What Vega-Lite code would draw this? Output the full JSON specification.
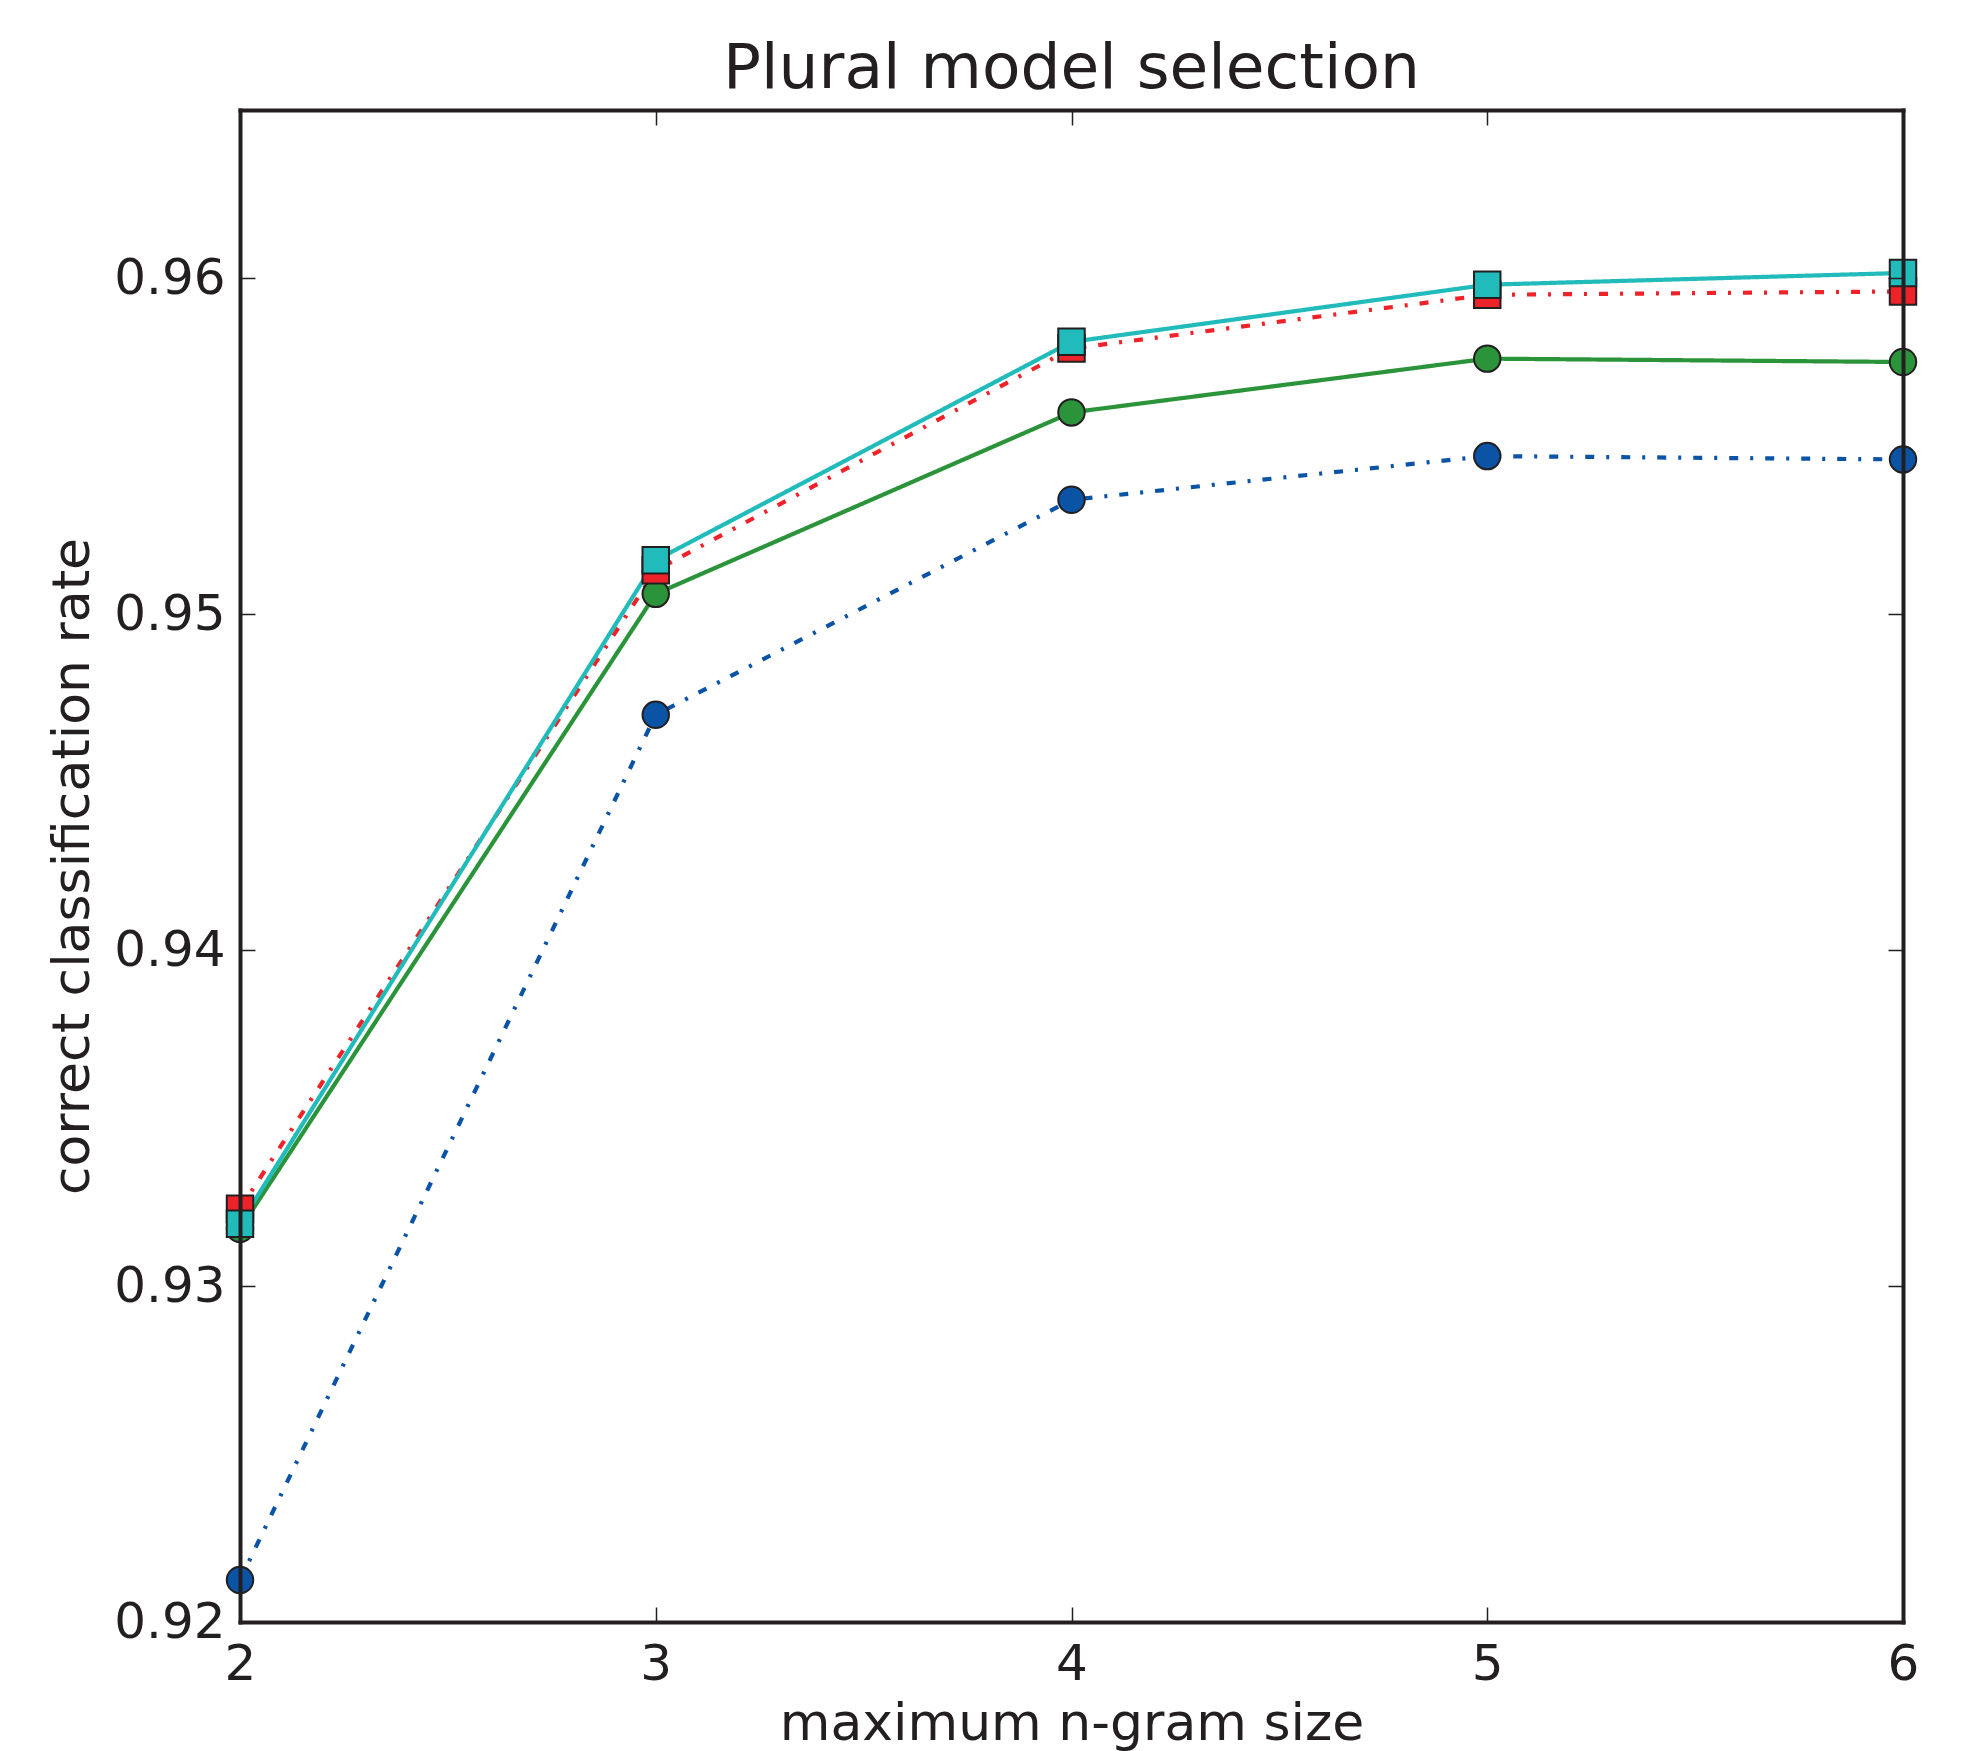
{
  "$schema": "https://vega.github.io/schema/vega-lite/v6.json",
  "autosize": {"type": "none"},
  "padding": {"left": 240, "top": 110, "right": 69, "bottom": 129},
  "width": 1663,
  "height": 1512,
  "background": "white",
  "config": {"view": {"stroke": null}, "font": "DejaVu Sans"},
  "title": {
    "text": "Plural model selection",
    "fontSize": 63,
    "font": "DejaVu Sans",
    "fontWeight": "normal",
    "color": "#231f20",
    "frame": "group",
    "anchor": "middle",
    "baseline": "alphabetic",
    "offset": -42
  },
  "data": {
    "values": [
      {"series": "A", "n": 2, "rate": 0.92125},
      {"series": "A", "n": 3, "rate": 0.9470},
      {"series": "A", "n": 4, "rate": 0.9534},
      {"series": "A", "n": 5, "rate": 0.9547},
      {"series": "A", "n": 6, "rate": 0.9546},
      {"series": "B", "n": 2, "rate": 0.9317},
      {"series": "B", "n": 3, "rate": 0.9506},
      {"series": "B", "n": 4, "rate": 0.9560},
      {"series": "B", "n": 5, "rate": 0.9576},
      {"series": "B", "n": 6, "rate": 0.9575},
      {"series": "C", "n": 2, "rate": 0.9323},
      {"series": "C", "n": 3, "rate": 0.9513},
      {"series": "C", "n": 4, "rate": 0.9579},
      {"series": "C", "n": 5, "rate": 0.9595},
      {"series": "C", "n": 6, "rate": 0.9596},
      {"series": "D", "n": 2, "rate": 0.93185},
      {"series": "D", "n": 3, "rate": 0.9516},
      {"series": "D", "n": 4, "rate": 0.9581},
      {"series": "D", "n": 5, "rate": 0.9598},
      {"series": "D", "n": 6, "rate": 0.96015}
    ]
  },
  "layer": [
    {
      "mark": {"type": "line", "strokeWidth": 4.2},
      "encoding": {
        "x": {
          "field": "n", "type": "quantitative",
          "scale": {"domain": [2, 6], "nice": false, "zero": false},
          "axis": {
            "orient": "bottom", "values": [2, 3, 4, 5, 6], "format": "d",
            "grid": false, "zindex": 1,
            "domainColor": "#231f20", "domainWidth": 4, "domainCap": "square",
            "tickColor": "#231f20", "tickWidth": 1.5, "tickSize": -15,
            "labelFontSize": 50, "labelColor": "#231f20", "labelPadding": 32, "labelFlush": false,
            "title": "maximum n-gram size", "titleFontSize": 52, "titleFontWeight": "normal",
            "titleColor": "#231f20", "titleBaseline": "alphabetic", "titlePadding": 50
          }
        },
        "y": {
          "field": "rate", "type": "quantitative",
          "scale": {"domain": [0.92, 0.965], "nice": false, "zero": false},
          "axis": {
            "orient": "left", "values": [0.92, 0.93, 0.94, 0.95, 0.96], "format": ".2f",
            "grid": false, "zindex": 1,
            "domainColor": "#231f20", "domainWidth": 4, "domainCap": "square",
            "tickColor": "#231f20", "tickWidth": 1.5, "tickSize": -15,
            "labelFontSize": 50, "labelColor": "#231f20", "labelPadding": 30, "labelFlush": false,
            "title": "correct classification rate", "titleFontSize": 52, "titleFontWeight": "normal",
            "titleColor": "#231f20", "titlePadding": 14
          }
        },
        "color": {
          "field": "series", "type": "nominal",
          "scale": {"domain": ["A", "B", "C", "D"], "range": ["#0b53a5", "#2b943a", "#ee2229", "#22bbbb"]},
          "legend": null
        },
        "strokeDash": {
          "field": "series", "type": "nominal",
          "scale": {"domain": ["A", "B", "C", "D"], "range": [[9, 12, 3, 12], [1, 0], [9, 12, 3, 12], [1, 0]]},
          "legend": null
        }
      }
    },
    {
      "mark": {"type": "point", "filled": true, "size": 700, "stroke": "#231f20", "strokeWidth": 2, "opacity": 1, "fillOpacity": 1},
      "encoding": {
        "x": {
          "field": "n", "type": "quantitative",
          "axis": {
            "orient": "top", "values": [2, 3, 4, 5, 6], "labels": false, "title": null,
            "grid": false, "zindex": 1,
            "domainColor": "#231f20", "domainWidth": 4, "domainCap": "square",
            "tickColor": "#231f20", "tickWidth": 1.5, "tickSize": -15
          }
        },
        "y": {
          "field": "rate", "type": "quantitative",
          "axis": {
            "orient": "right", "values": [0.92, 0.93, 0.94, 0.95, 0.96], "labels": false, "title": null,
            "grid": false, "zindex": 1,
            "domainColor": "#231f20", "domainWidth": 4, "domainCap": "square",
            "tickColor": "#231f20", "tickWidth": 1.5, "tickSize": -15
          }
        },
        "fill": {
          "field": "series", "type": "nominal",
          "scale": {"domain": ["A", "B", "C", "D"], "range": ["#0b53a5", "#2b943a", "#ee2229", "#22bbbb"]},
          "legend": null
        },
        "shape": {
          "field": "series", "type": "nominal",
          "scale": {"domain": ["A", "B", "C", "D"], "range": ["circle", "circle", "square", "square"]},
          "legend": null
        }
      }
    }
  ],
  "resolve": {"axis": {"x": "independent", "y": "independent"}}
}
